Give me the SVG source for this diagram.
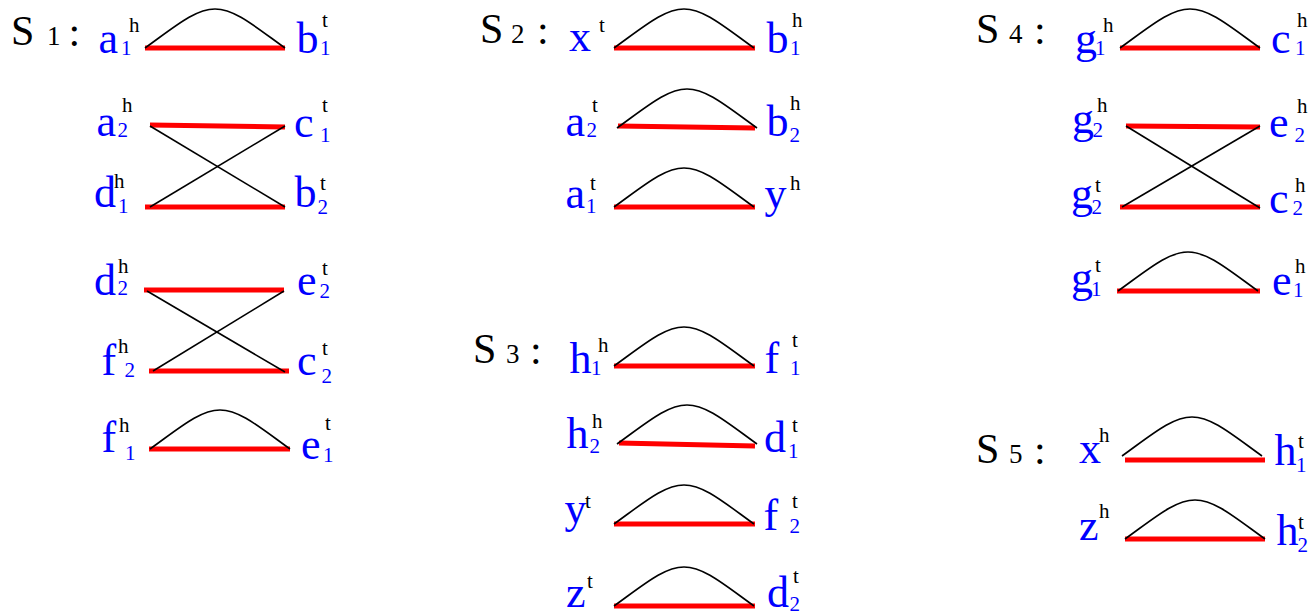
<svg xmlns="http://www.w3.org/2000/svg" width="1315" height="616" viewBox="0 0 1315 616">
<rect width="1315" height="616" fill="#fff"/>
<g id="titles" fill="#000">
<g id="t-s1"><text style="font-family:'Liberation Serif','Times New Roman',serif;font-size:42px" x="11" y="45">S</text><text style="font-family:'Liberation Serif','Times New Roman',serif;font-size:27px" x="47" y="45">1</text><text style="font-family:'Liberation Serif','Times New Roman',serif;font-size:42px" x="68.5" y="46">:</text></g>
<g id="t-s2"><text style="font-family:'Liberation Serif','Times New Roman',serif;font-size:42px" x="480" y="43">S</text><text style="font-family:'Liberation Serif','Times New Roman',serif;font-size:27px" x="511" y="43">2</text><text style="font-family:'Liberation Serif','Times New Roman',serif;font-size:42px" x="537" y="44">:</text></g>
<g id="t-s3"><text style="font-family:'Liberation Serif','Times New Roman',serif;font-size:42px" x="473" y="363">S</text><text style="font-family:'Liberation Serif','Times New Roman',serif;font-size:27px" x="506" y="363">3</text><text style="font-family:'Liberation Serif','Times New Roman',serif;font-size:42px" x="530" y="364">:</text></g>
<g id="t-s4"><text style="font-family:'Liberation Serif','Times New Roman',serif;font-size:42px" x="976" y="43">S</text><text style="font-family:'Liberation Serif','Times New Roman',serif;font-size:27px" x="1009" y="43">4</text><text style="font-family:'Liberation Serif','Times New Roman',serif;font-size:42px" x="1034" y="44">:</text></g>
<g id="t-s5"><text style="font-family:'Liberation Serif','Times New Roman',serif;font-size:42px" x="976" y="463">S</text><text style="font-family:'Liberation Serif','Times New Roman',serif;font-size:27px" x="1009" y="463">5</text><text style="font-family:'Liberation Serif','Times New Roman',serif;font-size:42px" x="1034" y="464">:</text></g>
</g>
<g id="connectors">
<g id="red-edges" stroke="#ff0000" stroke-width="5" fill="none">
<line x1="145" y1="48" x2="285" y2="48"/>
<line x1="150" y1="125" x2="285" y2="127"/>
<line x1="145" y1="207" x2="285" y2="207"/>
<line x1="144" y1="290" x2="284" y2="290"/>
<line x1="149" y1="371" x2="289" y2="371"/>
<line x1="149" y1="449" x2="290" y2="449"/>
<line x1="614" y1="48" x2="755" y2="48"/>
<line x1="618" y1="126" x2="755" y2="128"/>
<line x1="614" y1="207" x2="755" y2="207"/>
<line x1="614" y1="366" x2="755" y2="366"/>
<line x1="619" y1="443" x2="755" y2="446"/>
<line x1="614" y1="524" x2="755" y2="524"/>
<line x1="614" y1="606" x2="755" y2="606"/>
<line x1="1120" y1="48" x2="1260" y2="48"/>
<line x1="1126" y1="126" x2="1260" y2="127"/>
<line x1="1120" y1="207" x2="1260" y2="207"/>
<line x1="1117" y1="291" x2="1260" y2="291"/>
<line x1="1125" y1="460" x2="1265" y2="460"/>
<line x1="1125" y1="539" x2="1265" y2="539"/>
</g>
<g id="black-edges" stroke="#000" stroke-width="1.6" fill="none">
<path d="M145,48 c30,-21.5 50,-39 70,-39 c20,0 40,17.5 70,39"/>
<line x1="150" y1="126" x2="285" y2="207"/>
<line x1="150" y1="207" x2="285" y2="126"/>
<line x1="147" y1="291" x2="285" y2="372"/>
<line x1="153" y1="371" x2="284" y2="291"/>
<path d="M150,449 c30,-21.5 50,-39 70,-39 c20,0 40,17.5 70,39"/>
<path d="M614,48 c30,-21.5 50,-39 70,-39 c20,0 40,17.5 70,39"/>
<path d="M617,128 c30,-21.5 50,-39 70,-39 c20,0 40,17.5 70,39"/>
<path d="M614,207 c30,-21.5 50,-39 70,-39 c20,0 40,17.5 70,39"/>
<path d="M614,366 c30,-21.5 50,-39 70,-39 c20,0 40,17.5 70,39"/>
<path d="M617,444 c30,-21.5 50,-39 70,-39 c20,0 40,17.5 70,39"/>
<path d="M614,524 c30,-21.5 50,-39 70,-39 c20,0 40,17.5 70,39"/>
<path d="M614,606 c30,-21.5 50,-39 70,-39 c20,0 40,17.5 70,39"/>
<path d="M1120,48 c30,-21.5 50,-39 70,-39 c20,0 40,17.5 70,39"/>
<line x1="1126" y1="126" x2="1260" y2="208"/>
<line x1="1122" y1="207" x2="1260" y2="126"/>
<path d="M1118,291 c30,-21.5 50,-39 70,-39 c20,0 40,17.5 70,39"/>
<path d="M1122,456 c30,-21.5 50,-39 70,-39 c20,0 40,17.5 70,39"/>
<path d="M1125,539 c30,-21.5 50,-39 70,-39 c20,0 40,17.5 70,39"/>
</g>
</g>
<g id="nodes">
<g id="s1-a1h"><text style="font-family:'Liberation Serif','Times New Roman',serif;font-size:44px;fill:#0000ff" x="98.5" y="53">a</text><text style="font-family:'Liberation Serif','Times New Roman',serif;font-size:21px;fill:#0000ff" x="121" y="55">1</text><text style="font-family:'Liberation Serif','Times New Roman',serif;font-size:21px;fill:#000" x="129" y="32">h</text></g>
<g id="s1-b1t"><text style="font-family:'Liberation Serif','Times New Roman',serif;font-size:44px;fill:#0000ff" x="296.5" y="53">b</text><text style="font-family:'Liberation Serif','Times New Roman',serif;font-size:21px;fill:#0000ff" x="320" y="55">1</text><text style="font-family:'Liberation Serif','Times New Roman',serif;font-size:21px;fill:#000" x="322" y="27">t</text></g>
<g id="s1-a2h"><text style="font-family:'Liberation Serif','Times New Roman',serif;font-size:44px;fill:#0000ff" x="96.5" y="136">a</text><text style="font-family:'Liberation Serif','Times New Roman',serif;font-size:21px;fill:#0000ff" x="117.5" y="137">2</text><text style="font-family:'Liberation Serif','Times New Roman',serif;font-size:21px;fill:#000" x="122" y="112">h</text></g>
<g id="s1-c1t"><text style="font-family:'Liberation Serif','Times New Roman',serif;font-size:44px;fill:#0000ff" x="294" y="137">c</text><text style="font-family:'Liberation Serif','Times New Roman',serif;font-size:21px;fill:#0000ff" x="320" y="142">1</text><text style="font-family:'Liberation Serif','Times New Roman',serif;font-size:21px;fill:#000" x="322" y="112">t</text></g>
<g id="s1-d1h"><text style="font-family:'Liberation Serif','Times New Roman',serif;font-size:44px;fill:#0000ff" x="94" y="207">d</text><text style="font-family:'Liberation Serif','Times New Roman',serif;font-size:21px;fill:#0000ff" x="118" y="213">1</text><text style="font-family:'Liberation Serif','Times New Roman',serif;font-size:21px;fill:#000" x="114" y="188">h</text></g>
<g id="s1-b2t"><text style="font-family:'Liberation Serif','Times New Roman',serif;font-size:44px;fill:#0000ff" x="294.5" y="207">b</text><text style="font-family:'Liberation Serif','Times New Roman',serif;font-size:21px;fill:#0000ff" x="317.5" y="214">2</text><text style="font-family:'Liberation Serif','Times New Roman',serif;font-size:21px;fill:#000" x="320" y="190">t</text></g>
<g id="s1-d2h"><text style="font-family:'Liberation Serif','Times New Roman',serif;font-size:44px;fill:#0000ff" x="94" y="295">d</text><text style="font-family:'Liberation Serif','Times New Roman',serif;font-size:21px;fill:#0000ff" x="117.5" y="295">2</text><text style="font-family:'Liberation Serif','Times New Roman',serif;font-size:21px;fill:#000" x="118" y="273">h</text></g>
<g id="s1-e2t"><text style="font-family:'Liberation Serif','Times New Roman',serif;font-size:44px;fill:#0000ff" x="297" y="295">e</text><text style="font-family:'Liberation Serif','Times New Roman',serif;font-size:21px;fill:#0000ff" x="319.5" y="298">2</text><text style="font-family:'Liberation Serif','Times New Roman',serif;font-size:21px;fill:#000" x="322" y="275">t</text></g>
<g id="s1-f2h"><text style="font-family:'Liberation Serif','Times New Roman',serif;font-size:44px;fill:#0000ff" x="101.5" y="375">f</text><text style="font-family:'Liberation Serif','Times New Roman',serif;font-size:21px;fill:#0000ff" x="124.5" y="377">2</text><text style="font-family:'Liberation Serif','Times New Roman',serif;font-size:21px;fill:#000" x="118" y="353">h</text></g>
<g id="s1-c2t"><text style="font-family:'Liberation Serif','Times New Roman',serif;font-size:44px;fill:#0000ff" x="297" y="375">c</text><text style="font-family:'Liberation Serif','Times New Roman',serif;font-size:21px;fill:#0000ff" x="321.5" y="383">2</text><text style="font-family:'Liberation Serif','Times New Roman',serif;font-size:21px;fill:#000" x="322" y="355">t</text></g>
<g id="s1-f1h"><text style="font-family:'Liberation Serif','Times New Roman',serif;font-size:44px;fill:#0000ff" x="101.5" y="452">f</text><text style="font-family:'Liberation Serif','Times New Roman',serif;font-size:21px;fill:#0000ff" x="125" y="460">1</text><text style="font-family:'Liberation Serif','Times New Roman',serif;font-size:21px;fill:#000" x="119" y="432">h</text></g>
<g id="s1-e1t"><text style="font-family:'Liberation Serif','Times New Roman',serif;font-size:44px;fill:#0000ff" x="301" y="459">e</text><text style="font-family:'Liberation Serif','Times New Roman',serif;font-size:21px;fill:#0000ff" x="323" y="462">1</text><text style="font-family:'Liberation Serif','Times New Roman',serif;font-size:21px;fill:#000" x="325" y="430">t</text></g>
<g id="s2-xt"><text style="font-family:'Liberation Serif','Times New Roman',serif;font-size:44px;fill:#0000ff" x="569" y="51">x</text><text style="font-family:'Liberation Serif','Times New Roman',serif;font-size:21px;fill:#000" x="599" y="32">t</text></g>
<g id="s2-b1h"><text style="font-family:'Liberation Serif','Times New Roman',serif;font-size:44px;fill:#0000ff" x="766.5" y="53">b</text><text style="font-family:'Liberation Serif','Times New Roman',serif;font-size:21px;fill:#0000ff" x="790" y="55">1</text><text style="font-family:'Liberation Serif','Times New Roman',serif;font-size:21px;fill:#000" x="792" y="27">h</text></g>
<g id="s2-a2t"><text style="font-family:'Liberation Serif','Times New Roman',serif;font-size:44px;fill:#0000ff" x="565.5" y="136">a</text><text style="font-family:'Liberation Serif','Times New Roman',serif;font-size:21px;fill:#0000ff" x="586.5" y="137">2</text><text style="font-family:'Liberation Serif','Times New Roman',serif;font-size:21px;fill:#000" x="592" y="112">t</text></g>
<g id="s2-b2h"><text style="font-family:'Liberation Serif','Times New Roman',serif;font-size:44px;fill:#0000ff" x="766.5" y="136">b</text><text style="font-family:'Liberation Serif','Times New Roman',serif;font-size:21px;fill:#0000ff" x="789.5" y="142">2</text><text style="font-family:'Liberation Serif','Times New Roman',serif;font-size:21px;fill:#000" x="790" y="110">h</text></g>
<g id="s2-a1t"><text style="font-family:'Liberation Serif','Times New Roman',serif;font-size:44px;fill:#0000ff" x="565.5" y="208">a</text><text style="font-family:'Liberation Serif','Times New Roman',serif;font-size:21px;fill:#0000ff" x="586" y="213">1</text><text style="font-family:'Liberation Serif','Times New Roman',serif;font-size:21px;fill:#000" x="590" y="190">t</text></g>
<g id="s2-yh"><text style="font-family:'Liberation Serif','Times New Roman',serif;font-size:44px;fill:#0000ff" x="764.5" y="208">y</text><text style="font-family:'Liberation Serif','Times New Roman',serif;font-size:21px;fill:#000" x="790" y="190">h</text></g>
<g id="s3-h1h"><text style="font-family:'Liberation Serif','Times New Roman',serif;font-size:44px;fill:#0000ff" x="569.5" y="373">h</text><text style="font-family:'Liberation Serif','Times New Roman',serif;font-size:21px;fill:#0000ff" x="591" y="375">1</text><text style="font-family:'Liberation Serif','Times New Roman',serif;font-size:21px;fill:#000" x="598" y="352">h</text></g>
<g id="s3-f1t"><text style="font-family:'Liberation Serif','Times New Roman',serif;font-size:44px;fill:#0000ff" x="764.5" y="373">f</text><text style="font-family:'Liberation Serif','Times New Roman',serif;font-size:21px;fill:#0000ff" x="790" y="375">1</text><text style="font-family:'Liberation Serif','Times New Roman',serif;font-size:21px;fill:#000" x="792" y="347">t</text></g>
<g id="s3-h2h"><text style="font-family:'Liberation Serif','Times New Roman',serif;font-size:44px;fill:#0000ff" x="566.5" y="448">h</text><text style="font-family:'Liberation Serif','Times New Roman',serif;font-size:21px;fill:#0000ff" x="589.5" y="453">2</text><text style="font-family:'Liberation Serif','Times New Roman',serif;font-size:21px;fill:#000" x="592" y="428">h</text></g>
<g id="s3-d1t"><text style="font-family:'Liberation Serif','Times New Roman',serif;font-size:44px;fill:#0000ff" x="764" y="452">d</text><text style="font-family:'Liberation Serif','Times New Roman',serif;font-size:21px;fill:#0000ff" x="788" y="458">1</text><text style="font-family:'Liberation Serif','Times New Roman',serif;font-size:21px;fill:#000" x="792" y="432">t</text></g>
<g id="s3-yt"><text style="font-family:'Liberation Serif','Times New Roman',serif;font-size:44px;fill:#0000ff" x="564.5" y="523">y</text><text style="font-family:'Liberation Serif','Times New Roman',serif;font-size:21px;fill:#000" x="585" y="508">t</text></g>
<g id="s3-f2t"><text style="font-family:'Liberation Serif','Times New Roman',serif;font-size:44px;fill:#0000ff" x="763.5" y="530">f</text><text style="font-family:'Liberation Serif','Times New Roman',serif;font-size:21px;fill:#0000ff" x="789.5" y="533">2</text><text style="font-family:'Liberation Serif','Times New Roman',serif;font-size:21px;fill:#000" x="792" y="508">t</text></g>
<g id="s3-zt"><text style="font-family:'Liberation Serif','Times New Roman',serif;font-size:44px;fill:#0000ff" x="566" y="607">z</text><text style="font-family:'Liberation Serif','Times New Roman',serif;font-size:21px;fill:#000" x="587" y="588">t</text></g>
<g id="s3-d2t"><text style="font-family:'Liberation Serif','Times New Roman',serif;font-size:44px;fill:#0000ff" x="767" y="607">d</text><text style="font-family:'Liberation Serif','Times New Roman',serif;font-size:21px;fill:#0000ff" x="789.5" y="611">2</text><text style="font-family:'Liberation Serif','Times New Roman',serif;font-size:21px;fill:#000" x="793" y="583">t</text></g>
<g id="s4-g1h"><text style="font-family:'Liberation Serif','Times New Roman',serif;font-size:44px;fill:#0000ff" x="1075" y="53">g</text><text style="font-family:'Liberation Serif','Times New Roman',serif;font-size:21px;fill:#0000ff" x="1095" y="55">1</text><text style="font-family:'Liberation Serif','Times New Roman',serif;font-size:21px;fill:#000" x="1103" y="32">h</text></g>
<g id="s4-c1h"><text style="font-family:'Liberation Serif','Times New Roman',serif;font-size:44px;fill:#0000ff" x="1271" y="53">c</text><text style="font-family:'Liberation Serif','Times New Roman',serif;font-size:21px;fill:#0000ff" x="1295" y="55">1</text><text style="font-family:'Liberation Serif','Times New Roman',serif;font-size:21px;fill:#000" x="1297" y="27">h</text></g>
<g id="s4-g2h"><text style="font-family:'Liberation Serif','Times New Roman',serif;font-size:44px;fill:#0000ff" x="1072" y="133">g</text><text style="font-family:'Liberation Serif','Times New Roman',serif;font-size:21px;fill:#0000ff" x="1092.5" y="137">2</text><text style="font-family:'Liberation Serif','Times New Roman',serif;font-size:21px;fill:#000" x="1097" y="112">h</text></g>
<g id="s4-e2h"><text style="font-family:'Liberation Serif','Times New Roman',serif;font-size:44px;fill:#0000ff" x="1269" y="137">e</text><text style="font-family:'Liberation Serif','Times New Roman',serif;font-size:21px;fill:#0000ff" x="1294.5" y="142">2</text><text style="font-family:'Liberation Serif','Times New Roman',serif;font-size:21px;fill:#000" x="1297" y="113">h</text></g>
<g id="s4-g2t"><text style="font-family:'Liberation Serif','Times New Roman',serif;font-size:44px;fill:#0000ff" x="1071" y="208">g</text><text style="font-family:'Liberation Serif','Times New Roman',serif;font-size:21px;fill:#0000ff" x="1091.5" y="214">2</text><text style="font-family:'Liberation Serif','Times New Roman',serif;font-size:21px;fill:#000" x="1095" y="192">t</text></g>
<g id="s4-c2h"><text style="font-family:'Liberation Serif','Times New Roman',serif;font-size:44px;fill:#0000ff" x="1269" y="213">c</text><text style="font-family:'Liberation Serif','Times New Roman',serif;font-size:21px;fill:#0000ff" x="1292.5" y="215">2</text><text style="font-family:'Liberation Serif','Times New Roman',serif;font-size:21px;fill:#000" x="1295" y="192">h</text></g>
<g id="s4-g1t"><text style="font-family:'Liberation Serif','Times New Roman',serif;font-size:44px;fill:#0000ff" x="1071" y="292">g</text><text style="font-family:'Liberation Serif','Times New Roman',serif;font-size:21px;fill:#0000ff" x="1091" y="296">1</text><text style="font-family:'Liberation Serif','Times New Roman',serif;font-size:21px;fill:#000" x="1095" y="272">t</text></g>
<g id="s4-e1h"><text style="font-family:'Liberation Serif','Times New Roman',serif;font-size:44px;fill:#0000ff" x="1272" y="295">e</text><text style="font-family:'Liberation Serif','Times New Roman',serif;font-size:21px;fill:#0000ff" x="1293" y="297">1</text><text style="font-family:'Liberation Serif','Times New Roman',serif;font-size:21px;fill:#000" x="1295" y="273">h</text></g>
<g id="s5-xh"><text style="font-family:'Liberation Serif','Times New Roman',serif;font-size:44px;fill:#0000ff" x="1079" y="463">x</text><text style="font-family:'Liberation Serif','Times New Roman',serif;font-size:21px;fill:#000" x="1099" y="442">h</text></g>
<g id="s5-h1t"><text style="font-family:'Liberation Serif','Times New Roman',serif;font-size:44px;fill:#0000ff" x="1274.5" y="465">h</text><text style="font-family:'Liberation Serif','Times New Roman',serif;font-size:21px;fill:#0000ff" x="1296" y="472">1</text><text style="font-family:'Liberation Serif','Times New Roman',serif;font-size:21px;fill:#000" x="1298" y="448">t</text></g>
<g id="s5-zh"><text style="font-family:'Liberation Serif','Times New Roman',serif;font-size:44px;fill:#0000ff" x="1079" y="540">z</text><text style="font-family:'Liberation Serif','Times New Roman',serif;font-size:21px;fill:#000" x="1099" y="518">h</text></g>
<g id="s5-h2t"><text style="font-family:'Liberation Serif','Times New Roman',serif;font-size:44px;fill:#0000ff" x="1276.5" y="545">h</text><text style="font-family:'Liberation Serif','Times New Roman',serif;font-size:21px;fill:#0000ff" x="1297.5" y="552">2</text><text style="font-family:'Liberation Serif','Times New Roman',serif;font-size:21px;fill:#000" x="1298" y="529">t</text></g>
</g>
</svg>
